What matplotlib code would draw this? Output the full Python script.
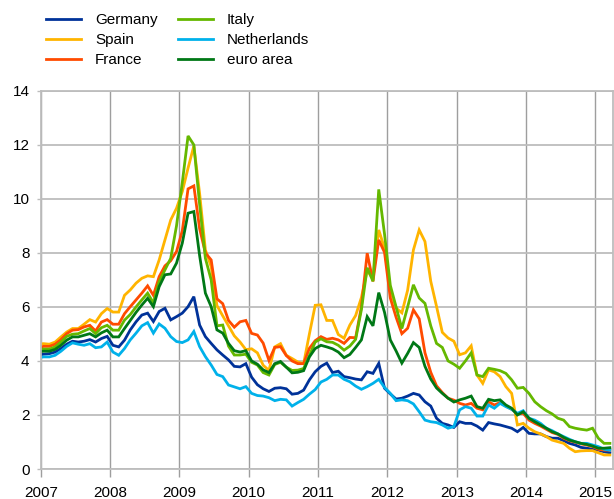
import numpy as np
import pandas as pd
import matplotlib
matplotlib.use('Agg')
import matplotlib.pyplot as plt

plt.rcParams['font.family'] = ['Liberation Sans', 'DejaVu Sans']

# monthly observations, Dec 2006 - Mar 2015
months = pd.date_range('2006-12-01', periods=100, freq='MS')

germany = [4.21, 4.25, 4.27, 4.33, 4.46, 4.62, 4.73, 4.70, 4.73, 4.79,
           4.70, 4.83, 4.91, 4.58, 4.52, 4.77, 5.15, 5.45, 5.70, 5.77,
           5.46, 5.83, 5.95, 5.52, 5.64, 5.77, 6.01, 6.38, 5.33, 4.90,
           4.65, 4.41, 4.22, 4.04, 3.80, 3.78, 3.90, 3.40, 3.12, 2.97,
           2.87, 2.99, 3.01, 2.97, 2.77, 2.80, 2.92, 3.30, 3.60, 3.80,
           3.92, 3.57, 3.62, 3.42, 3.38, 3.33, 3.30, 3.60, 3.54, 3.91,
           2.99, 2.78, 2.59, 2.62, 2.70, 2.80, 2.74, 2.49, 2.33, 1.88,
           1.69, 1.63, 1.54, 1.75, 1.69, 1.69, 1.59, 1.44, 1.72, 1.67,
           1.63, 1.57, 1.51, 1.38, 1.54, 1.32, 1.30, 1.30, 1.20, 1.14,
           1.14, 1.05, 0.95, 0.89, 0.80, 0.77, 0.73, 0.70, 0.64, 0.60]

spain = [4.62, 4.64, 4.62, 4.70, 4.89, 5.07, 5.20, 5.20, 5.36, 5.53,
         5.44, 5.75, 5.94, 5.81, 5.81, 6.43, 6.63, 6.88, 7.06, 7.15,
         7.12, 7.74, 8.48, 9.22, 9.65, 10.27, 11.14, 11.96, 10.2, 8.11,
         7.49, 6.05, 5.67, 5.30, 4.93, 4.70, 4.42, 4.45, 4.30, 3.84,
         3.65, 4.52, 4.64, 4.21, 4.09, 3.96, 3.90, 5.0, 6.06, 6.08,
         5.5, 5.5, 4.98, 4.84, 5.33, 5.68, 6.35, 7.35, 7.05, 8.85,
         8.17, 6.62, 5.96, 5.78, 6.62, 8.11, 8.85, 8.42, 6.95, 6.02,
         5.06, 4.85, 4.73, 4.23, 4.30, 4.56, 3.48, 3.17, 3.67, 3.60,
         3.42, 3.05, 2.80, 1.63, 1.69, 1.51, 1.38, 1.30, 1.20, 1.07,
         1.01, 0.95, 0.77, 0.64, 0.67, 0.68, 0.68, 0.60, 0.52, 0.52]

france = [4.49, 4.54, 4.54, 4.62, 4.79, 5.01, 5.14, 5.16, 5.26, 5.32,
          5.11, 5.44, 5.53, 5.36, 5.36, 5.75, 6.01, 6.26, 6.51, 6.78,
          6.43, 7.12, 7.52, 7.71, 8.05, 8.82, 10.37, 10.48, 8.9, 8.0,
          7.74, 6.3, 6.12, 5.5, 5.25, 5.45, 5.5, 5.02, 4.96, 4.66,
          4.02, 4.50, 4.53, 4.20, 4.00, 3.90, 3.90, 4.47, 4.75, 4.90,
          4.80, 4.84, 4.78, 4.65, 4.87, 4.86, 6.01, 7.99, 6.95, 8.48,
          8.02, 6.33, 5.62, 5.01, 5.21, 5.89, 5.56, 4.30, 3.58, 3.08,
          2.83, 2.62, 2.55, 2.43, 2.37, 2.43, 2.25, 2.19, 2.49, 2.37,
          2.46, 2.33, 2.21, 2.04, 2.06, 1.81, 1.69, 1.59, 1.47, 1.35,
          1.28, 1.14, 1.05, 0.99, 0.93, 0.89, 0.83, 0.73, 0.70, 0.70]

italy = [4.42, 4.44, 4.44, 4.52, 4.70, 4.91, 4.99, 5.01, 5.11, 5.20,
         5.01, 5.23, 5.32, 5.14, 5.14, 5.51, 5.72, 6.0, 6.26, 6.51,
         6.15, 6.94, 7.37, 7.80, 9.0, 10.6, 12.33, 12.0, 9.8, 7.8,
         7.0, 5.3, 5.33, 4.55, 4.22, 4.22, 4.25, 3.95, 3.85, 3.57,
         3.48, 3.87, 3.95, 3.77, 3.65, 3.66, 3.72, 4.2, 4.7, 4.82,
         4.71, 4.69, 4.58, 4.40, 4.55, 4.8, 5.9, 7.45, 6.95, 10.35,
         8.7, 6.8, 6.0, 5.2, 6.0, 6.82, 6.33, 6.13, 5.3, 4.65,
         4.5, 4.0, 3.88, 3.73, 4.0, 4.3, 3.48, 3.42, 3.73, 3.69,
         3.64, 3.54, 3.30, 2.99, 3.02, 2.80, 2.49, 2.31, 2.16, 2.04,
         1.88, 1.81, 1.57, 1.51, 1.47, 1.44, 1.51, 1.14, 0.95, 0.95]

netherlands = [4.12, 4.15, 4.15, 4.21, 4.36, 4.54, 4.67, 4.62, 4.58, 4.64,
               4.49, 4.52, 4.70, 4.33, 4.21, 4.46, 4.78, 5.03, 5.30, 5.42,
               5.03, 5.37, 5.21, 4.90, 4.72, 4.68, 4.78, 5.09, 4.53, 4.16,
               3.85, 3.50, 3.42, 3.11, 3.04, 2.97, 3.05, 2.80, 2.72, 2.70,
               2.64, 2.53, 2.58, 2.56, 2.33, 2.46, 2.58, 2.77, 2.94, 3.22,
               3.32, 3.48, 3.48, 3.32, 3.23, 3.07, 2.95, 3.05, 3.17, 3.32,
               3.02, 2.80, 2.53, 2.56, 2.53, 2.41, 2.12, 1.81, 1.75, 1.72,
               1.63, 1.51, 1.57, 2.19, 2.31, 2.25, 1.96, 1.96, 2.37, 2.25,
               2.43, 2.31, 2.21, 2.06, 2.16, 1.88, 1.81, 1.69, 1.51, 1.42,
               1.30, 1.20, 1.10, 1.01, 0.95, 0.95, 0.89, 0.83, 0.73, 0.70]

euro_area = [4.33, 4.36, 4.36, 4.43, 4.58, 4.77, 4.89, 4.89, 4.95, 5.01,
             4.89, 5.04, 5.14, 4.89, 4.89, 5.20, 5.50, 5.80, 6.07, 6.32,
             6.01, 6.75, 7.19, 7.22, 7.62, 8.36, 9.47, 9.53, 7.9, 6.51,
             6.01, 5.15, 5.03, 4.65, 4.38, 4.33, 4.38, 4.0, 3.88, 3.67,
             3.57, 3.90, 3.98, 3.77, 3.56, 3.58, 3.64, 4.15, 4.46, 4.58,
             4.52, 4.45, 4.33, 4.12, 4.24, 4.50, 4.78, 5.64, 5.30, 6.53,
             5.80, 4.78, 4.37, 3.92, 4.28, 4.68, 4.50, 3.80, 3.33, 3.0,
             2.80, 2.62, 2.48, 2.56, 2.62, 2.70, 2.31, 2.25, 2.58, 2.53,
             2.56, 2.37, 2.25, 2.0, 2.12, 1.88, 1.75, 1.63, 1.51, 1.38,
             1.30, 1.17, 1.07, 1.01, 0.95, 0.91, 0.85, 0.77, 0.77, 0.79]

names = ['Germany', 'Spain', 'France', 'Italy', 'Netherlands', 'euro area']
colors = ['#003299', '#FFB400', '#FF4B00', '#65B800', '#00B1EA', '#007816']
series = [germany, spain, france, italy, netherlands, euro_area]

# mid-month position in decimal years
x = months.year + (months.month - 0.5) / 12

fig = plt.figure(figsize=(6.14, 4.99), dpi=100)
ax = fig.add_axes([0.0663, 0.0601, 0.9317, 0.7579])

for name, col, vals in zip(names, colors, series):
    ax.plot(x, vals, color=col, lw=2.0, label=name, solid_joinstyle='miter')

ax.set_xlim(2007, 2015.25)
ax.set_ylim(0, 14)
ax.set_xticks(range(2007, 2016))
ax.set_yticks(range(0, 15, 2))
ax.grid(axis='y', color='#bdbdbd', lw=1.3)
ax.grid(axis='x', color='#9e9e9e', lw=1.0)
ax.set_axisbelow(True)
for s in ax.spines.values():
    s.set_color('#bdbdbd')
    s.set_linewidth(1.3)
ax.tick_params(axis='x', length=6, width=1, color='#9e9e9e', pad=6, labelsize=11)
ax.tick_params(axis='y', length=3, width=1, color='#bdbdbd', pad=5, labelsize=11)

fig.legend(loc='upper left', bbox_to_anchor=(0.058, 0.995), ncol=2, frameon=False,
           fontsize=11, handlelength=2.3, handletextpad=0.9, columnspacing=1.3,
           labelspacing=0.4, borderaxespad=0.3)

fig.savefig('out.png', dpi=100)
